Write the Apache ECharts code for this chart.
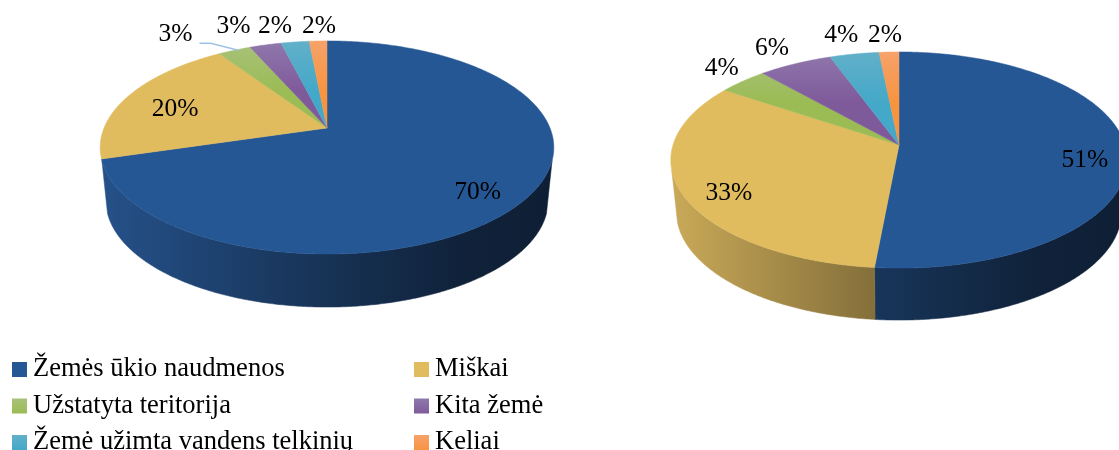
<!DOCTYPE html>
<html><head><meta charset="utf-8">
<style>html,body{margin:0;padding:0;background:#fff;overflow:hidden}#c{width:1119px;height:450px}</style>
<script src="https://cdn.jsdelivr.net/npm/echarts@6/dist/echarts.min.js"></script>
</head><body><div id="c"></div>
<script>
const categories = ['Žemės ūkio naudmenos','Miškai','Užstatyta teritorija','Kita žemė','Žemė užimta vandens telkinių','Keliai'];
const leftValues  = [70.4, 20.2, 2.8, 2.7, 2.4, 1.5];
const rightValues = [51.49, 32.91, 4, 6, 4, 1.6];

const faceColors = ['#255795','#e0bc5f','#9bbb55','#7f5a9b','#44a8c8','#f79440'];
const rimColors  = ['#255795','#e0bc5f','#a8c27a','#8f78ab','#62b0c9','#f6a26a'];
const wallColors = ['#2a5c9c','#e4c064','#9bbb55','#7f5a9b','#44a8c8','#f79440'];

// pie geometry: apex, half-axes, perspective, extrusion
const pies = [
  {values:leftValues,  cx:327, cy:128, R:223, S:103, k:0.183, depth:53, bottomScale:0.975, wallStart:0.3,
   labelRadius:[0.7,0.7,1,1,1,1], labelShift:[[15,18],[-11,5],[-59,-16],[-32,-19],[-20,-16],[1,-15]], leader:2},
  {values:rightValues, cx:899, cy:145, R:226, S:106, k:0.139, depth:52, bottomScale:0.975, wallStart:0.23,
   labelRadius:[0.7,0.7,1,1,1,1], labelShift:[[27,12],[-21,15],[-21,-13],[-23,-15],[-13,-19],[-4,-17]], leader:-1}
];

function project(p, theta, r){
  const u = Math.sin(theta)*r, v = -Math.cos(theta)*r, w = 1 - p.k*v;
  return [p.cx + p.R*u/w, p.cy + p.S*v/w];
}
function arc(p, a, b){
  const n = Math.max(2, Math.ceil(Math.abs(b-a)/(Math.PI/360))), pts=[];
  for(let i=0;i<=n;i++) pts.push(project(p, a+(b-a)*i/n, 1));
  return pts;
}
function shade(hex, f){
  const n=parseInt(hex.slice(1),16);
  const c=[n>>16&255,n>>8&255,n&255].map(x=>Math.round(x*f));
  return 'rgb('+c.join(',')+')';
}
function sliceAngles(p, i){
  const total=p.values.reduce((s,x)=>s+x,0);
  const before=p.values.slice(0,i).reduce((s,x)=>s+x,0);
  return [before/total*2*Math.PI,(before+p.values[i])/total*2*Math.PI];
}
function renderSlice(params, api){
  const i=params.seriesIndex, p=pies[params.dataIndex];
  const [a,b]=sliceAngles(p,i);
  const children=[];
  // side wall (front part only)
  const front=Math.acos(-p.wallStart), f0=Math.max(a,front), f1=Math.min(b,2*Math.PI-front);
  if(f1>f0){
    const top=arc(p,f0,f1);
    const bottom=top.map(q=>[p.cx+(q[0]-p.cx)*p.bottomScale,q[1]+p.depth]).reverse();
    const base=wallColors[i];
    const fill={type:'linear',global:true,x:p.cx-p.R,y:0,x2:p.cx+p.R,y2:0,colorStops:[
      {offset:0,color:shade(base,0.88)},{offset:0.45,color:shade(base,0.58)},{offset:0.8,color:shade(base,0.37)},{offset:1,color:shade(base,0.34)}]};
    children.push({type:'polygon',z2:1,shape:{points:top.concat(bottom)},style:{fill:fill,stroke:fill,lineWidth:0.5}});
  }
  // top face
  const pts=[[p.cx,p.cy]].concat(arc(p,a,b));
  const topY=p.cy-p.S/(1+p.k);
  const faceFill={type:'linear',global:true,x:0,y:topY,x2:0,y2:topY+50,colorStops:[
    {offset:0,color:rimColors[i]},{offset:1,color:faceColors[i]}]};
  children.push({type:'polygon',z2:2,shape:{points:pts},style:{fill:faceFill,stroke:faceFill,lineWidth:0.5}});
  // label
  const mid=(a+b)/2, at=project(p,mid,p.labelRadius[i]), sh=p.labelShift[i];
  const lx=at[0]+sh[0], ly=at[1]+sh[1];
  if(p.leader===i){
    children.push({type:'polyline',z2:3,shape:{points:[[lx+24,ly+9],[lx+35,ly+9],[at[0]+4,at[1]]]},style:{fill:null,stroke:'#9dc3e6',lineWidth:1.4}});
  }
  children.push({type:'text',z2:4,style:{x:lx,y:ly,text:Math.round(p.values[i])+'%',align:'center',verticalAlign:'middle',
    fontFamily:'"Liberation Serif"',fontSize:25.5,fill:'#000'}});
  return {type:'group',children};
}
const series=categories.map((name,i)=>({
  type:'custom',name,coordinateSystem:'none',silent:true,clip:false,
  itemStyle:{color:faceColors[i]},
  renderItem:renderSlice,
  data:[leftValues[i],rightValues[i]]
}));
function legendItem(i){
  return {name:categories[i],itemStyle:{color:{type:'linear',x:0,y:0,x2:0,y2:1,colorStops:[
    {offset:0,color:rimColors[i]},{offset:1,color:faceColors[i]}]}}};
}
function legendAt(left,indices){
  return {orient:'vertical',left,top:356,height:120,itemWidth:15,itemHeight:15,itemGap:9.5,icon:'rect',selectedMode:false,
    padding:0,data:indices.map(legendItem),textStyle:{fontFamily:'"Liberation Serif"',fontSize:26.5,color:'#000',padding:[0,0,0,1]}};
}
const chart=echarts.init(document.getElementById('c'),null,{renderer:'canvas'});
chart.setOption({animation:false,backgroundColor:'#fff',
  legend:[legendAt(12,[0,2,4]),legendAt(414,[1,3,5])],
  series});
</script></body></html>
